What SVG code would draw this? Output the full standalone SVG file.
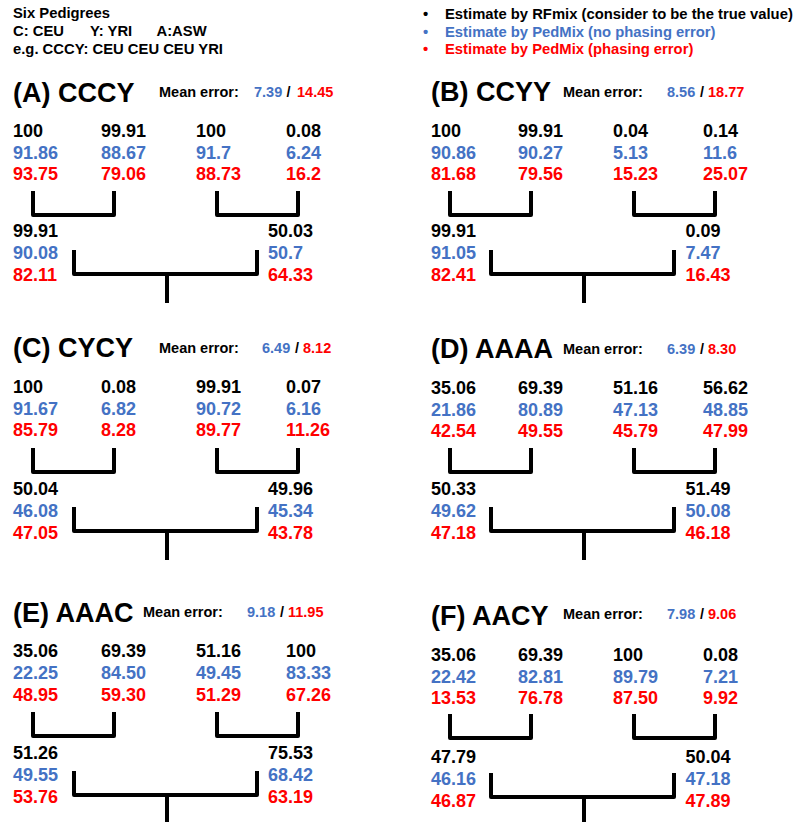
<svg xmlns="http://www.w3.org/2000/svg" xmlns:xlink="http://www.w3.org/1999/xlink" width="803" height="822" viewBox="0 0 803 822">
<style>
text{font-family:"Liberation Sans",Arial,sans-serif;font-weight:bold}
.hd{font-size:14.8px;fill:#000}
.tt{font-size:27px;fill:#000}
.me{font-size:14.5px;fill:#000}
.n{font-size:18px}
.k{fill:#000}
.b{fill:#4472C4}
.r{fill:#FF0000}
.br{fill:none;stroke:#000;stroke-width:4;stroke-linejoin:round;stroke-linecap:butt}
</style>
<defs>
<path id="pairL" d="M33,191 V215 H114 V191"/>
<path id="pairR" d="M217,191 V215 H298 V191"/>
<path id="kid" d="M74,250 V274 H257 V250 M167,274 V303"/>
</defs>
<rect width="803" height="822" fill="#fff"/>
<g id="header">
<text class="hd" x="13" y="18">Six Pedigrees</text>
<text class="hd" x="13" y="36">C: CEU</text>
<text class="hd" x="90" y="36">Y: YRI</text>
<text class="hd" x="156.5" y="36">A:ASW</text>
<text class="hd" x="13" y="54">e.g. CCCY: CEU CEU CEU YRI</text>
</g>
<g id="legend">
<text class="hd k" x="423" y="19">•</text><text class="hd k" x="445" y="19">Estimate by RFmix (consider to be the true value)</text>
<text class="hd b" x="423" y="36.5">•</text><text class="hd b" x="445" y="36.5">Estimate by PedMix (no phasing error)</text>
<text class="hd r" x="423" y="54">•</text><text class="hd r" x="445" y="54">Estimate by PedMix (phasing error)</text>
</g>

<g id="panelA">
<text class="tt" x="13" y="102">(A) CCCY</text>
<text class="me" x="159" y="97">Mean error:</text><text class="me b" x="254" y="97">7.39</text><text class="me" x="286.5" y="97">/</text><text class="me r" x="297" y="97">14.45</text>
<g id="A-gp1" class="n"><text class="k" x="13" y="137">100</text><text class="b" x="13" y="158.5">91.86</text><text class="r" x="13" y="180">93.75</text></g>
<g id="A-gp2" class="n"><text class="k" x="101" y="137">99.91</text><text class="b" x="101" y="158.5">88.67</text><text class="r" x="101" y="180">79.06</text></g>
<g id="A-gp3" class="n"><text class="k" x="196" y="137">100</text><text class="b" x="196" y="158.5">91.7</text><text class="r" x="196" y="180">88.73</text></g>
<g id="A-gp4" class="n"><text class="k" x="286" y="137">0.08</text><text class="b" x="286" y="158.5">6.24</text><text class="r" x="286" y="180">16.2</text></g>
<g id="A-p1" class="n"><text class="k" x="13" y="237">99.91</text><text class="b" x="13" y="259">90.08</text><text class="r" x="13" y="281">82.11</text></g>
<g id="A-p2" class="n"><text class="k" x="268" y="237">50.03</text><text class="b" x="268" y="259">50.7</text><text class="r" x="268" y="281">64.33</text></g>
<g id="A-connectors" class="br"><use xlink:href="#pairL"/><use xlink:href="#pairR"/><use xlink:href="#kid"/></g>
</g>

<g id="panelB" transform="translate(417,0)">
<text class="tt" x="14" y="101">(B) CCYY</text>
<text class="me" x="146" y="96.5">Mean error:</text><text class="me b" x="250" y="96.5">8.56</text><text class="me" x="283" y="96.5">/</text><text class="me r" x="291" y="96.5">18.77</text>
<g id="B-gp1" class="n"><text class="k" x="14" y="137">100</text><text class="b" x="14" y="158.5">90.86</text><text class="r" x="14" y="180">81.68</text></g>
<g id="B-gp2" class="n"><text class="k" x="101" y="137">99.91</text><text class="b" x="101" y="158.5">90.27</text><text class="r" x="101" y="180">79.56</text></g>
<g id="B-gp3" class="n"><text class="k" x="196" y="137">0.04</text><text class="b" x="196" y="158.5">5.13</text><text class="r" x="196" y="180">15.23</text></g>
<g id="B-gp4" class="n"><text class="k" x="286" y="137">0.14</text><text class="b" x="286" y="158.5">11.6</text><text class="r" x="286" y="180">25.07</text></g>
<g id="B-p1" class="n"><text class="k" x="14" y="237">99.91</text><text class="b" x="14" y="259">91.05</text><text class="r" x="14" y="281">82.41</text></g>
<g id="B-p2" class="n"><text class="k" x="268.5" y="237">0.09</text><text class="b" x="268.5" y="259">7.47</text><text class="r" x="268.5" y="281">16.43</text></g>
<g id="B-connectors" class="br"><use xlink:href="#pairL"/><use xlink:href="#pairR"/><use xlink:href="#kid"/></g>
</g>

<g id="panelC" transform="translate(0,256)">
<text class="tt" x="13" y="101">(C) CYCY</text>
<text class="me" x="159" y="97">Mean error:</text><text class="me b" x="262" y="97">6.49</text><text class="me" x="295" y="97">/</text><text class="me r" x="303" y="97">8.12</text>
<g id="C-gp1" class="n"><text class="k" x="13" y="137">100</text><text class="b" x="13" y="158.5">91.67</text><text class="r" x="13" y="180">85.79</text></g>
<g id="C-gp2" class="n"><text class="k" x="101" y="137">0.08</text><text class="b" x="101" y="158.5">6.82</text><text class="r" x="101" y="180">8.28</text></g>
<g id="C-gp3" class="n"><text class="k" x="196" y="137">99.91</text><text class="b" x="196" y="158.5">90.72</text><text class="r" x="196" y="180">89.77</text></g>
<g id="C-gp4" class="n"><text class="k" x="286" y="137">0.07</text><text class="b" x="286" y="158.5">6.16</text><text class="r" x="286" y="180">11.26</text></g>
<g id="C-p1" class="n"><text class="k" x="13" y="239">50.04</text><text class="b" x="13" y="261">46.08</text><text class="r" x="13" y="283">47.05</text></g>
<g id="C-p2" class="n"><text class="k" x="268" y="239">49.96</text><text class="b" x="268" y="261">45.34</text><text class="r" x="268" y="283">43.78</text></g>
<g id="C-connectors" class="br" transform="translate(0,1)"><use xlink:href="#pairL"/><use xlink:href="#pairR"/><use xlink:href="#kid"/></g>
</g>

<g id="panelD" transform="translate(417,257)">
<text class="tt" x="14" y="101">(D) AAAA</text>
<text class="me" x="146" y="96.5">Mean error:</text><text class="me b" x="250" y="96.5">6.39</text><text class="me" x="283" y="96.5">/</text><text class="me r" x="291" y="96.5">8.30</text>
<g id="D-gp1" class="n"><text class="k" x="14" y="137">35.06</text><text class="b" x="14" y="158.5">21.86</text><text class="r" x="14" y="180">42.54</text></g>
<g id="D-gp2" class="n"><text class="k" x="101" y="137">69.39</text><text class="b" x="101" y="158.5">80.89</text><text class="r" x="101" y="180">49.55</text></g>
<g id="D-gp3" class="n"><text class="k" x="196" y="137">51.16</text><text class="b" x="196" y="158.5">47.13</text><text class="r" x="196" y="180">45.79</text></g>
<g id="D-gp4" class="n"><text class="k" x="286" y="137">56.62</text><text class="b" x="286" y="158.5">48.85</text><text class="r" x="286" y="180">47.99</text></g>
<g id="D-p1" class="n"><text class="k" x="14" y="238">50.33</text><text class="b" x="14" y="260">49.62</text><text class="r" x="14" y="282">47.18</text></g>
<g id="D-p2" class="n"><text class="k" x="268.5" y="238">51.49</text><text class="b" x="268.5" y="260">50.08</text><text class="r" x="268.5" y="282">46.18</text></g>
<g id="D-connectors" class="br"><use xlink:href="#pairL"/><use xlink:href="#pairR"/><use xlink:href="#kid"/></g>
</g>

<g id="panelE" transform="translate(0,520)">
<text class="tt" x="13" y="101.5">(E) AAAC</text>
<text class="me" x="143" y="96.5">Mean error:</text><text class="me b" x="247" y="96.5">9.18</text><text class="me" x="280" y="96.5">/</text><text class="me r" x="288" y="96.5">11.95</text>
<g id="E-gp1" class="n"><text class="k" x="13" y="137">35.06</text><text class="b" x="13" y="159">22.25</text><text class="r" x="13" y="181">48.95</text></g>
<g id="E-gp2" class="n"><text class="k" x="101" y="137">69.39</text><text class="b" x="101" y="159">84.50</text><text class="r" x="101" y="181">59.30</text></g>
<g id="E-gp3" class="n"><text class="k" x="196" y="137">51.16</text><text class="b" x="196" y="159">49.45</text><text class="r" x="196" y="181">51.29</text></g>
<g id="E-gp4" class="n"><text class="k" x="286" y="137">100</text><text class="b" x="286" y="159">83.33</text><text class="r" x="286" y="181">67.26</text></g>
<g id="E-p1" class="n"><text class="k" x="13" y="239">51.26</text><text class="b" x="13" y="261">49.55</text><text class="r" x="13" y="283">53.76</text></g>
<g id="E-p2" class="n"><text class="k" x="268" y="239">75.53</text><text class="b" x="268" y="261">68.42</text><text class="r" x="268" y="283">63.19</text></g>
<g id="E-connectors" class="br" transform="translate(0,1)"><use xlink:href="#pairL"/><use xlink:href="#pairR"/><use xlink:href="#kid"/></g>
</g>

<g id="panelF" transform="translate(417,523)">
<text class="tt" x="14" y="101.5">(F) AACY</text>
<text class="me" x="146" y="96">Mean error:</text><text class="me b" x="250" y="96">7.98</text><text class="me" x="283" y="96">/</text><text class="me r" x="291" y="96">9.06</text>
<g id="F-gp1" class="n"><text class="k" x="14" y="138">35.06</text><text class="b" x="14" y="159.5">22.42</text><text class="r" x="14" y="181">13.53</text></g>
<g id="F-gp2" class="n"><text class="k" x="101" y="138">69.39</text><text class="b" x="101" y="159.5">82.81</text><text class="r" x="101" y="181">76.78</text></g>
<g id="F-gp3" class="n"><text class="k" x="196" y="138">100</text><text class="b" x="196" y="159.5">89.79</text><text class="r" x="196" y="181">87.50</text></g>
<g id="F-gp4" class="n"><text class="k" x="286" y="138">0.08</text><text class="b" x="286" y="159.5">7.21</text><text class="r" x="286" y="181">9.92</text></g>
<g id="F-p1" class="n"><text class="k" x="14" y="240">47.79</text><text class="b" x="14" y="262">46.16</text><text class="r" x="14" y="284">46.87</text></g>
<g id="F-p2" class="n"><text class="k" x="268.5" y="240">50.04</text><text class="b" x="268.5" y="262">47.18</text><text class="r" x="268.5" y="284">47.89</text></g>
<g id="F-connectors" class="br"><use xlink:href="#pairL"/><use xlink:href="#pairR"/><use xlink:href="#kid"/></g>
</g>
</svg>
